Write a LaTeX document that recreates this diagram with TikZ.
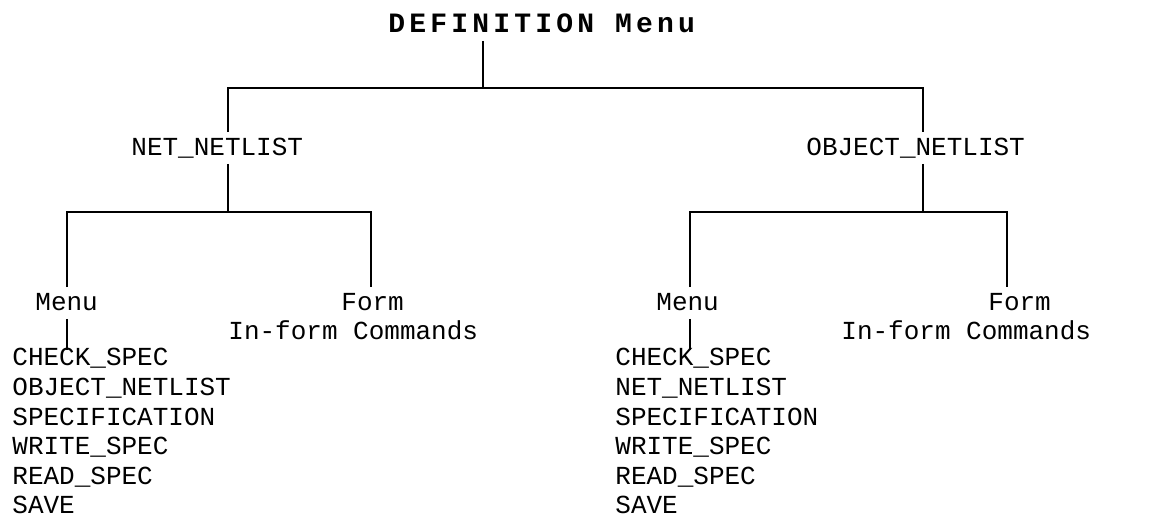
\documentclass[tikz,border=0pt]{standalone}
\usepackage{fontspec}
\setmonofont{Liberation Mono}
\newfontfamily\titlefont[LetterSpace=15]{Liberation Mono}
\newcommand\typew{\fontsize{13}{15}\selectfont\ttfamily}
\begin{document}
\begin{tikzpicture}[
  x=0.5pt, y=-0.5pt,
  lbl/.style={font=\typew, inner sep=4pt, text height=7.4pt, text depth=0pt, anchor=west},
  item/.style={lbl, inner sep=0pt},
  tree/.style={line width=0.9pt},
]
\useasboundingbox (0,0) rectangle (1161,530);

% --- root ---
\node[lbl, font=\fontsize{14}{16}\selectfont\titlefont\bfseries] (root) at (380,25) {DEFINITION Menu};

% --- second level ---
\node[lbl] (nnet) at (123,148) {NET\_NETLIST};
\node[lbl] (onet) at (798,148) {OBJECT\_NETLIST};

% --- NET_NETLIST branch ---
\node[lbl] (lmenu) at (27,303) {Menu};
\node[lbl] (lform) at (333,303) {Form};
\node[lbl] (lcmd) at (220,332) {In-form Commands};
\node[item] (lspec1) at (12,358) {CHECK\_SPEC};
\node[item] (lspec2) at (12,388) {OBJECT\_NETLIST};
\node[item] (lspec3) at (12,418) {SPECIFICATION};
\node[item] (lspec4) at (12,447) {WRITE\_SPEC};
\node[item] (lspec5) at (12,477) {READ\_SPEC};
\node[item] (lspec6) at (12,506) {SAVE};

% --- OBJECT_NETLIST branch ---
\node[lbl] (rmenu) at (648,303) {Menu};
\node[lbl] (rform) at (980,303) {Form};
\node[lbl] (rcmd) at (833,332) {In-form Commands};
\node[item] (rspec1) at (615,358) {CHECK\_SPEC};
\node[item] (rspec2) at (615,388) {NET\_NETLIST};
\node[item] (rspec3) at (615,418) {SPECIFICATION};
\node[item] (rspec4) at (615,447) {WRITE\_SPEC};
\node[item] (rspec5) at (615,477) {READ\_SPEC};
\node[item] (rspec6) at (615,506) {SAVE};

% bar junctions
\coordinate (topbar) at (483,88);
\coordinate (ltop) at (228,88);
\coordinate (rtop) at (923,88);
\coordinate (lbar) at (228,212);
\coordinate (lbl) at (67,212);
\coordinate (lbr) at (371,212);
\coordinate (rbar) at (923,212);
\coordinate (rbl) at (690,212);
\coordinate (rbr) at (1007,212);

% root -> second level
\draw[tree] (root.south -| topbar) -- (topbar);
\draw[tree] (ltop |- nnet.north) -- (ltop) -- (rtop) -- (rtop |- onet.north);

% NET_NETLIST -> Menu / Form
\draw[tree] (lbar |- nnet.south) -- (lbar);
\draw[tree] (lbl |- lmenu.north) -- (lbl) -- (lbr) -- (lbr |- lform.north);
\draw[tree] (lbl |- lmenu.south) -- (lbl |- lspec1.north);

% OBJECT_NETLIST -> Menu / Form
\draw[tree] (rbar |- onet.south) -- (rbar);
\draw[tree] (rbl |- rmenu.north) -- (rbl) -- (rbr) -- (rbr |- rform.north);
\draw[tree] (rbl |- rmenu.south) -- (rbl |- rspec1.north);
\end{tikzpicture}
\end{document}
